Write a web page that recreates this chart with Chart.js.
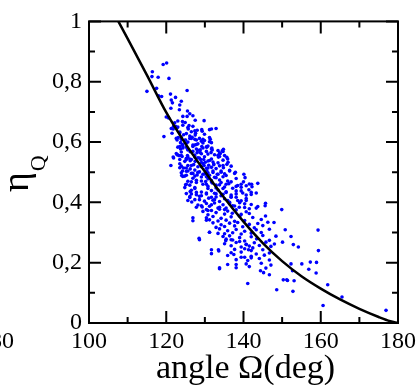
<!DOCTYPE html>
<html><head><meta charset="utf-8">
<script src="https://cdn.jsdelivr.net/npm/chart.js@4.4.1/dist/chart.umd.min.js"></script>
<style>html,body{margin:0;padding:0;background:#fff}#wrap{width:420px;height:385px;position:relative}</style>
</head><body><div id="wrap"><canvas id="c"></canvas></div>
<script>
// ---- axis ticks / labels ----
const xTickValues = [100, 120, 140, 160, 180];
const xMinorTicks = [110, 130, 150, 170];
const yTickValues = [0, 0.2, 0.4, 0.6, 0.8, 1];
const yTickLabels = ['0', '0,2', '0,4', '0,6', '0,8', '1'];
const yMinorTicks = [0.1, 0.3, 0.5, 0.7, 0.9];
const xTitle = 'angle \u03A9(deg)';
const yTitleMain = '\u03B7';
const yTitleSub = 'Q';
const strayLabel = '180';

// ---- fitted curve ----
const curveAngle = [107.6, 110, 115, 120, 125, 130, 135, 140, 145, 150, 155, 160, 165, 170, 175, 178, 180];
const curveEta   = [1.0, 0.943, 0.822, 0.698, 0.594, 0.502, 0.415, 0.336, 0.265, 0.205, 0.155, 0.114, 0.078, 0.047, 0.020, 0.006, 0.0];

const scatterAngle = [
 // upper part
 119.2,120.1,116.4,116.3,117.9,120.7,117.5,115.0,118.0,118.8,
 125.4,121.1,122.4,121.3,121.6,123.9,123.5,121.2,123.4,125.5,
 126.1,120.0,120.6,124.3,125.4,126.9,122.2,123.0,124.2,124.9,
 127.5,129.8,121.9,122.8,121.8,125.7,125.9,119.4,121.5,127.4,
 127.6,126.1,131.7,129.3,122.8,123.9,125.0,126.5,127.8,129.5,
 131.4,123.5,124.3,123.7,125.5,126.9,127.8,128.8,130.5,131.9,
 134.5,134.0,121.8,122.8,123.9,125.6,126.5,128.6,129.7,131.7,
 133.5,135.9,125.2,
 121.3,122.4,123.5,124.5,123.1,124.8,125.6,126.7,127.8,129.1,
 129.5,131.2,131.7,124.2,125.2,126.2,127.4,128.2,128.8,129.5,
 130.4,130.8,131.7,133.8,134.8,122.6,123.9,125.2,126.2,127.4,
 128.2,129.1,129.9,130.8,132.1,133.4,134.7,135.7,
 // left edge / lower left
 121.2,121.9,123.3,123.5,124.2,125.2,125.0,126.2,126.1,126.6,
 126.9,128.5,131.2,130.4,133.4,131.7,133.5,133.8,135.9,138.1,
 141.1,140.7,135.4,136.8,139.0,140.7,141.3,142.4,142.0,140.3,
 137.5,
 // core
 123.5,124.5,125.6,126.2,127.1,129.1,129.5,130.4,131.0,131.7,132.3,132.9,133.8,134.8,135.7,
 124.0,125.2,126.5,127.4,128.0,128.6,129.9,130.5,131.2,132.1,133.4,134.2,135.1,136.4,137.9,
 124.3,125.6,126.9,127.8,129.1,130.2,130.8,131.7,132.5,133.8,134.7,135.9,138.1,140.0,
 124.8,126.1,127.4,129.5,130.8,131.9,132.9,133.8,135.1,136.2,137.2,138.5,139.4,141.5,142.2,143.7,
 125.2,126.5,127.8,129.1,130.4,131.7,132.5,133.4,134.7,135.5,136.8,138.1,139.8,141.4,142.0,
 126.1,127.4,128.6,129.9,131.0,132.1,132.9,133.8,135.1,135.9,136.8,138.1,139.4,140.7,
 128.2,129.3,130.4,131.2,132.5,133.8,134.7,135.5,136.4,137.7,139.0,140.3,142.0,143.7,145.7,
 129.5,130.8,131.7,132.9,133.8,135.1,135.9,137.1,138.1,139.4,140.7,141.5,
 126.9,130.4,131.2,132.1,133.4,134.2,135.5,136.8,137.7,139.0,140.3,142.4,144.6,145.7,
 132.1,132.9,134.2,135.1,136.4,137.7,138.5,139.8,141.5,142.8,143.7,145.0,146.3,
 131.2,133.8,135.1,135.9,137.2,138.1,139.4,140.3,142.0,143.3,144.6,146.7,
 128.6,134.7,135.5,136.4,137.2,139.0,140.3,142.0,143.4,145.0,146.7,148.4,
 135.1,136.8,138.1,139.4,140.7,141.5,142.8,144.1,145.8,147.1,148.0,
 131.7,133.6,136.8,137.7,139.4,140.3,142.0,143.3,145.0,146.7,
 135.9,138.1,139.4,141.1,142.0,144.1,145.4,146.7,
 133.8,138.1,141.5,144.6,145.8,147.1,
 // right tail
 149.9,150.8,159.3,152.3,152.9,154.2,150.1,159.4,152.3,155.1,
 157.3,158.9,156.9,158.8,146.7,145.2,144.4,150.3,151.2,151.4,
 153.1,152.7,152.8,161.8,165.5,160.6,176.9,148.6,147.9,
 // dense upper core
 123.0,124.3,125.6,126.9,128.0,129.2,131.2,132.9,123.5,125.2,126.5,127.5,129.9,
 122.6,123.9,126.1,127.4,128.6,129.9,131.2,123.7,125.2,126.9,128.2,129.2,130.8,131.8,133.4,134.7,
 123.0,124.3,125.6,126.9,128.0,129.1,130.4,131.6,132.5,133.8,135.1,122.9,124.1,125.5,127.4,
 123.5,124.8,126.1,127.5,128.9,130.1,131.2,132.3,133.4,134.7,136.0,136.8,123.9,125.2,126.5,128.2,129.8,130.8,
 123.9,125.6,126.9,128.2,129.5,130.8,132.1,133.2,134.2,135.5,136.4,137.7,140.1,140.4,124.8,127.4,130.4,132.9,
 125.2,126.5,127.8,129.1,130.4,131.7,132.9,134.2,135.5,136.8,138.1,139.4,140.7,142.1,127.4,130.8,134.7,
 126.5,127.8,129.1,130.4,131.7,132.9,134.2,135.5,136.8,138.1,139.4,140.7,142.0,143.3,125.6,128.6,132.5,136.4,138.5,140.7,
 127.8,129.1,130.4,131.7,133.4,135.1,137.2,138.9,140.3,141.5,143.3,145.6,130.8
];
const scatterEta = [
 0.857,0.862,0.833,0.817,0.815,0.811,0.778,0.768,0.753,0.751,
 0.771,0.759,0.748,0.739,0.730,0.735,0.723,0.712,0.707,0.703,
 0.694,0.683,0.680,0.685,0.685,0.687,0.664,0.670,0.668,0.665,
 0.672,0.671,0.652,0.647,0.643,0.643,0.655,0.618,0.629,0.637,
 0.629,0.620,0.643,0.636,0.607,0.609,0.607,0.612,0.607,0.609,
 0.609,0.585,0.587,0.577,0.577,0.585,0.577,0.574,0.583,0.574,
 0.571,0.562,0.550,0.558,0.555,0.550,0.542,0.547,0.542,0.544,
 0.550,0.544,0.542,
 0.645,0.652,0.633,0.624,0.615,0.606,0.600,0.616,0.592,0.603,
 0.597,0.615,0.598,0.592,0.583,0.568,0.590,0.573,0.565,0.580,
 0.584,0.560,0.577,0.564,0.576,0.562,0.567,0.546,0.538,0.557,
 0.548,0.532,0.551,0.537,0.534,0.556,0.540,0.549,
 0.522,0.547,0.555,0.515,0.504,0.490,0.458,0.436,0.419,0.401,
 0.349,0.281,0.301,0.341,0.297,0.243,0.243,0.183,0.194,0.183,
 0.131,0.196,0.273,0.276,0.270,0.260,0.243,0.249,0.216,0.218,
 0.227,
 0.528,0.514,0.522,0.511,0.525,0.518,0.529,0.513,0.523,0.516,0.527,0.512,0.521,0.515,0.526,
 0.489,0.503,0.496,0.507,0.491,0.501,0.494,0.505,0.490,0.499,0.493,0.504,0.495,0.506,0.500,
 0.486,0.470,0.480,0.473,0.484,0.469,0.478,0.472,0.483,0.474,0.485,0.471,0.479,0.468,
 0.449,0.457,0.446,0.460,0.453,0.464,0.448,0.458,0.451,0.462,0.447,0.456,0.450,0.461,0.452,0.463,
 0.429,0.440,0.425,0.434,0.428,0.439,0.430,0.441,0.427,0.435,0.424,0.438,0.431,0.442,0.426,
 0.416,0.409,0.420,0.404,0.414,0.407,0.418,0.403,0.412,0.406,0.419,0.417,0.405,0.413,
 0.391,0.385,0.396,0.387,0.398,0.384,0.392,0.381,0.395,0.388,0.399,0.383,0.393,0.386,0.397,
 0.370,0.359,0.373,0.366,0.377,0.361,0.371,0.364,0.375,0.360,0.369,0.363,
 0.339,0.349,0.342,0.353,0.338,0.347,0.341,0.352,0.337,0.354,0.340,0.350,0.343,0.355,
 0.332,0.317,0.326,0.320,0.331,0.322,0.333,0.319,0.327,0.316,0.330,0.323,0.334,
 0.301,0.312,0.296,0.306,0.299,0.310,0.295,0.304,0.298,0.309,0.300,0.311,
 0.276,0.287,0.278,0.289,0.275,0.283,0.272,0.286,0.279,0.290,0.274,0.288,
 0.263,0.256,0.267,0.252,0.261,0.255,0.266,0.257,0.268,0.254,0.262,
 0.230,0.239,0.233,0.244,0.235,0.246,0.240,0.229,0.243,0.232,
 0.224,0.210,0.218,0.207,0.221,0.214,0.225,0.209,
 0.180,0.194,0.187,0.198,0.182,0.192,
 0.376,0.309,0.308,0.287,0.260,0.252,0.268,0.240,0.196,0.196,
 0.202,0.201,0.178,0.166,0.160,0.167,0.173,0.143,0.143,0.141,
 0.140,0.173,0.105,0.127,0.086,0.058,0.042,0.110,0.333,
 0.650,0.656,0.648,0.652,0.639,0.641,0.641,0.645,0.631,0.628,0.634,0.623,0.626,
 0.612,0.615,0.612,0.609,0.612,0.605,0.601,0.598,0.596,0.590,0.594,0.585,0.587,0.580,0.572,0.569,
 0.583,0.580,0.574,0.569,0.565,0.561,0.569,0.565,0.558,0.552,0.555,0.558,0.552,0.555,0.550,
 0.542,0.536,0.544,0.536,0.542,0.533,0.539,0.525,0.531,0.522,0.533,0.520,0.520,0.514,0.522,0.518,0.522,0.514,
 0.498,0.504,0.496,0.500,0.493,0.498,0.504,0.493,0.500,0.489,0.504,0.496,0.493,0.482,0.487,0.487,0.485,0.482,
 0.460,0.468,0.466,0.471,0.460,0.468,0.457,0.466,0.460,0.468,0.453,0.460,0.455,0.460,0.449,0.446,0.446,
 0.428,0.433,0.422,0.431,0.417,0.428,0.422,0.433,0.417,0.428,0.438,0.424,0.433,0.431,0.406,0.409,0.409,0.400,0.406,0.406,
 0.384,0.389,0.376,0.392,0.381,0.376,0.389,0.384,0.395,0.379,0.381,0.389,0.373
];

const SERIF = '"Liberation Serif", "Times New Roman", serif';
Chart.defaults.font.family = SERIF;
const n = Math.min(scatterAngle.length, scatterEta.length);
const scatterData = [];
for (let i = 0; i < n; i++) scatterData.push({x: scatterAngle[i], y: scatterEta[i]});
const curveData = curveAngle.map((a, i) => ({x: a, y: curveEta[i]}));

const framePlugin = {
  id: 'framePlugin',
  afterDatasetsDraw(chart) {
    const {ctx, chartArea: ca, scales: {x, y}} = chart;
    ctx.save();
    ctx.strokeStyle = '#000';
    ctx.lineWidth = 2;
    ctx.strokeRect(ca.left, ca.top, ca.right - ca.left, ca.bottom - ca.top);
    const MAJ = 12, MIN = 6;
    ctx.beginPath();
    const xt = (v, L) => { const p = x.getPixelForValue(v);
      ctx.moveTo(p, ca.bottom); ctx.lineTo(p, ca.bottom - L);
      ctx.moveTo(p, ca.top); ctx.lineTo(p, ca.top + L); };
    const yt = (v, L) => { const p = y.getPixelForValue(v);
      ctx.moveTo(ca.left, p); ctx.lineTo(ca.left + L, p);
      ctx.moveTo(ca.right, p); ctx.lineTo(ca.right - L, p); };
    xTickValues.forEach(v => xt(v, MAJ)); xMinorTicks.forEach(v => xt(v, MIN));
    yTickValues.forEach(v => yt(v, MAJ)); yMinorTicks.forEach(v => yt(v, MIN));
    ctx.stroke();
    ctx.restore();
  },
  afterDraw(chart) {
    const {ctx, chartArea: ca} = chart;
    ctx.save();
    ctx.fillStyle = '#000';
    ctx.font = '34px ' + SERIF;
    ctx.textAlign = 'center';
    ctx.textBaseline = 'alphabetic';
    ctx.fillText(xTitle, (ca.left + ca.right) / 2 + 2, 378);
    ctx.font = '24px ' + SERIF;
    ctx.textAlign = 'right';
    ctx.fillText(strayLabel, 14, 348);
    ctx.translate(28, 192);
    ctx.rotate(-Math.PI / 2);
    ctx.textAlign = 'left';
    ctx.font = '38px ' + SERIF;
    ctx.fillText(yTitleMain, 0, 0);
    const w = ctx.measureText(yTitleMain).width;
    ctx.font = '22px ' + SERIF;
    ctx.fillText(yTitleSub, w + 1, 17);
    ctx.restore();
  }
};

new Chart(document.getElementById('c'), {
  type: 'scatter',
  data: {
    datasets: [
      {data: curveData, showLine: true, borderColor: '#000', borderWidth: 2.5,
       pointRadius: 0, cubicInterpolationMode: 'monotone', fill: false},
      {data: scatterData, backgroundColor: '#0000ff', borderWidth: 0, pointRadius: 1.8}
    ]
  },
  options: {
    responsive: true, maintainAspectRatio: false, animation: false,
    layout: {padding: {top: 16, right: 21, left: 0, bottom: 0}},
    plugins: {legend: {display: false}, tooltip: {enabled: false}},
    scales: {
      x: {
        type: 'linear', min: 100, max: 180,
        afterBuildTicks: s => { s.ticks = xTickValues.map(v => ({value: v})); },
        afterFit: s => { s.height = 62; },
        grid: {display: false, drawTicks: false}, border: {display: false},
        ticks: {color: '#000', font: {family: SERIF, size: 24}, padding: 4, maxRotation: 0, autoSkip: false,
                callback: v => String(v)}
      },
      y: {
        type: 'linear', min: 0, max: 1,
        afterBuildTicks: s => { s.ticks = yTickValues.map(v => ({value: v})); },
        afterFit: s => { s.width = 89; },
        grid: {display: false, drawTicks: false}, border: {display: false},
        ticks: {color: '#000', font: {family: SERIF, size: 24}, padding: 7, autoSkip: false,
                callback: (v, i) => yTickLabels[i]}
      }
    }
  },
  plugins: [framePlugin]
});
</script>
</body></html>
